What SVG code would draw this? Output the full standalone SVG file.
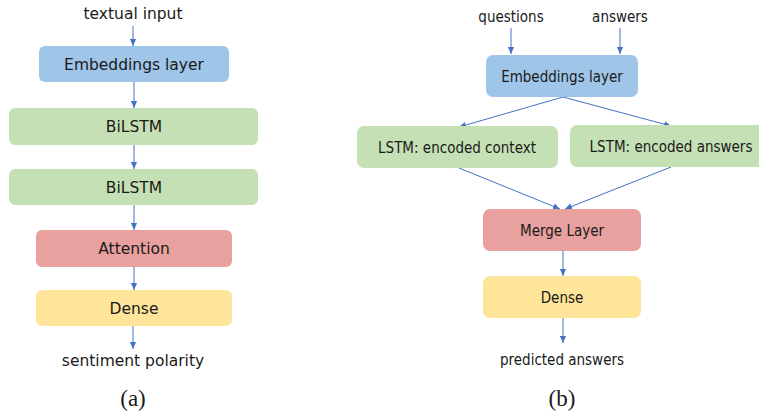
<svg xmlns="http://www.w3.org/2000/svg" width="759" height="414" viewBox="0 0 759 414">
  <style>
    .a { font-family: "DejaVu Sans", Verdana, sans-serif; font-size: 15.5px; fill: #1a1a1a; text-anchor: middle; }
    .b { font-family: "DejaVu Sans Condensed", "DejaVu Sans", sans-serif; font-stretch: condensed; font-size: 15px; fill: #1a1a1a; text-anchor: middle; }
    .cap { font-family: "Liberation Serif", "Times New Roman", serif; font-size: 23px; fill: #1a1a1a; text-anchor: middle; }
    .blue { fill: #9fc5e8; }
    .green { fill: #c5e0b4; }
    .red { fill: #e8a19f; }
    .yellow { fill: #ffe599; }
    .conn { stroke: #4472c4; stroke-width: 1; fill: none; marker-end: url(#head); }
  </style>
  <defs>
    <marker id="head" viewBox="0 0 8 8" refX="8" refY="4" markerWidth="7" markerHeight="7" markerUnits="userSpaceOnUse" orient="auto">
      <path d="M0,0.5 L8,4 L0,7.5 Z" fill="#4472c4"/>
    </marker>
  </defs>
  <rect width="759" height="414" fill="#ffffff"/>

  <!-- connectors -->
  <g id="connectors">
    <line class="conn" x1="133" y1="26" x2="133" y2="46"/>
    <line class="conn" x1="134" y1="82" x2="134" y2="108"/>
    <line class="conn" x1="134" y1="145" x2="134" y2="169"/>
    <line class="conn" x1="134" y1="205" x2="134" y2="230"/>
    <line class="conn" x1="134" y1="267" x2="134" y2="290"/>
    <line class="conn" x1="133" y1="326" x2="133" y2="349"/>

    <line class="conn" x1="511" y1="28" x2="511" y2="54"/>
    <line class="conn" x1="620" y1="28" x2="620" y2="54"/>
    <line class="conn" x1="563" y1="97" x2="459" y2="127"/>
    <line class="conn" x1="563" y1="97" x2="671" y2="126"/>
    <line class="conn" x1="459" y1="168" x2="560" y2="209"/>
    <line class="conn" x1="671" y1="167" x2="565" y2="209"/>
    <line class="conn" x1="563" y1="251" x2="563" y2="276"/>
    <line class="conn" x1="563" y1="318" x2="563" y2="343"/>
  </g>

  <!-- (a) sentiment model -->
  <text class="a" x="133" y="19">textual input</text>
  <g id="a-embeddings">
    <rect class="blue" x="39" y="46" width="190" height="36" rx="6"/>
    <text class="a" x="134" y="69.5">Embeddings layer</text>
  </g>
  <g id="a-bilstm1">
    <rect class="green" x="9" y="108" width="249" height="37" rx="6"/>
    <text class="a" x="134" y="132">BiLSTM</text>
  </g>
  <g id="a-bilstm2">
    <rect class="green" x="9" y="169" width="249" height="36" rx="6"/>
    <text class="a" x="134" y="192.5">BiLSTM</text>
  </g>
  <g id="a-attention">
    <rect class="red" x="36" y="230" width="196" height="37" rx="6"/>
    <text class="a" x="134" y="254">Attention</text>
  </g>
  <g id="a-dense">
    <rect class="yellow" x="36" y="290" width="196" height="36" rx="6"/>
    <text class="a" x="134" y="313.5">Dense</text>
  </g>
  <text class="a" x="133" y="366">sentiment polarity</text>
  <text class="cap" x="133" y="406">(a)</text>

  <!-- (b) question answering model -->
  <text class="b" x="511" y="22">questions</text>
  <text class="b" x="620" y="22">answers</text>
  <g id="b-embeddings">
    <rect class="blue" x="486" y="55" width="152" height="42" rx="7"/>
    <text class="b" x="562" y="81.5">Embeddings layer</text>
  </g>
  <g id="b-context">
    <rect class="green" x="357" y="126" width="201" height="42" rx="7"/>
    <text class="b" x="457" y="152.5">LSTM: encoded context</text>
  </g>
  <g id="b-answers">
    <rect class="green" x="570" y="125" width="200" height="42" rx="7"/>
    <text class="b" x="671" y="151.5">LSTM: encoded answers</text>
  </g>
  <g id="b-merge">
    <rect class="red" x="483" y="209" width="158" height="42" rx="7"/>
    <text class="b" x="562" y="235.5">Merge Layer</text>
  </g>
  <g id="b-dense">
    <rect class="yellow" x="483" y="276" width="158" height="42" rx="7"/>
    <text class="b" x="562" y="302.5">Dense</text>
  </g>
  <text class="b" x="562" y="365">predicted answers</text>
  <text class="cap" x="562" y="406">(b)</text>
</svg>
